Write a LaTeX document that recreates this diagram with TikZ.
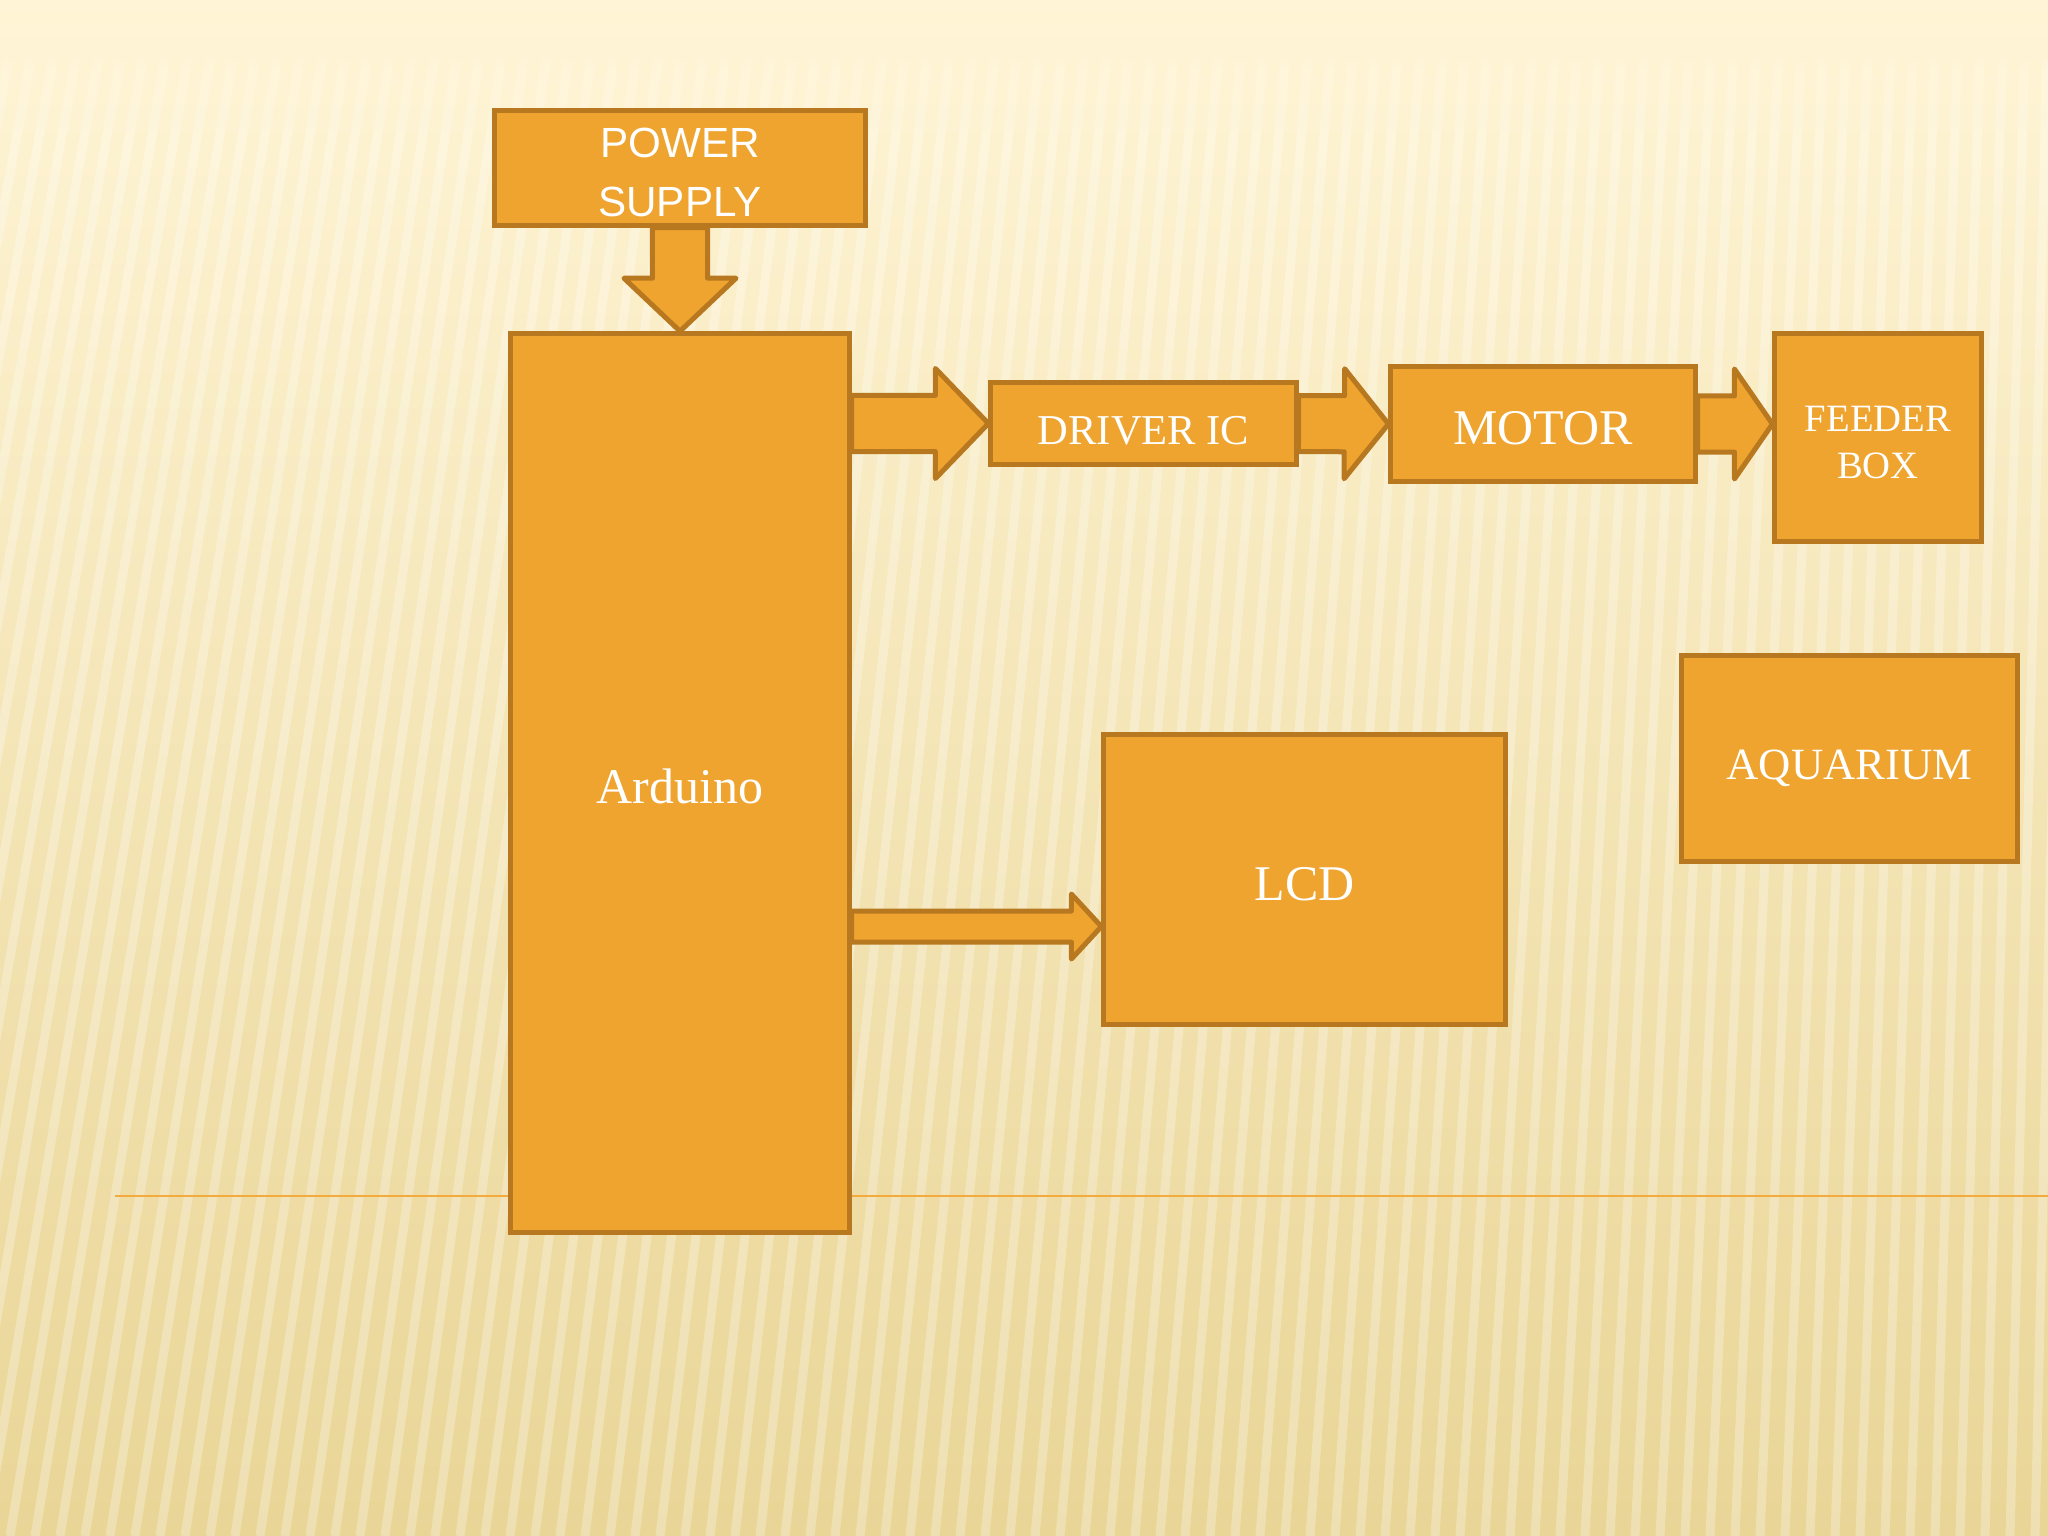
\documentclass[tikz,border=0pt]{standalone}
\usepackage{fontspec}
\setmainfont{Liberation Serif}
\newfontfamily\psfont{Liberation Sans}
\usetikzlibrary{calc,fadings}
\definecolor{boxfill}{HTML}{EEA42F}
\definecolor{boxline}{HTML}{B8781F}
\definecolor{rulecol}{HTML}{F2AB3C}
\definecolor{bgtop}{HTML}{FFF5D6}
\definecolor{bgmid}{HTML}{F7E7B5}
\definecolor{bgbot}{HTML}{E9D596}
\tikzset{
  box/.style={draw=boxline,fill=boxfill,line width=0.05cm,text=white,inner sep=0pt},
  boxtext/.style={text height=0.41cm,text depth=0pt},
  arrowbox/.style={draw=boxline,fill=boxfill,line width=0.05cm,line join=round},
  stripe/.style={white,opacity=0.28,line width=0.09cm},
}
% block arrow: from, to, shaft half width, head half width, head length
\newcommand{\blockarrow}[5]{%
  \coordinate (neck) at ($(#2)!#5!(#1)$);
  \filldraw[arrowbox] ($(#1)!#3!90:(#2)$) -- ($(neck)!#3!-90:(#1)$)
    -- ($(neck)!#4!-90:(#1)$) -- (#2) -- ($(neck)!#4!90:(#1)$)
    -- ($(neck)!#3!90:(#1)$) -- ($(#1)!#3!-90:(#2)$) -- cycle;
}
\begin{document}
\begin{tikzpicture}[x=0.01cm,y=-0.01cm]
\useasboundingbox (0,0) rectangle (2048,1536);
% background
\fill[top color=bgtop,middle color=bgmid,bottom color=bgbot] (0,0) rectangle (2048,1536);
\foreach \i in {-12,...,86} {
  \draw[stripe] (\i*25-40,1536) -- (\i*25+210-\i*2.6,60);
}
\fill[bgtop,path fading=south] (0,0) rectangle (2048,150);
\draw[rulecol,line width=0.025cm] (115,1196) -- (2048,1196);
\coordinate (PS) at (680,168);
\coordinate (ARD) at (680,783);
\coordinate (DRV) at (1143.5,423.5);
\coordinate (MOT) at (1543,424);
\coordinate (FEED) at (1878,437.5);
\coordinate (AQUA) at (1849.5,758.5);
\coordinate (LCD) at (1304.5,879.5);
\node[box,minimum width=3.70cm,minimum height=1.14cm] (ps) at (PS) {};
\node[text=white,font=\psfont\fontsize{12}{17}\selectfont,align=center,yshift=-0.045cm] (pstext) at (PS) {POWER\\SUPPLY};
\node[box,boxtext,minimum width=3.38cm,minimum height=8.98cm,font=\fontsize{14.2}{17}\selectfont] (ard) at (ARD) {Arduino};
\node[box,boxtext,minimum width=3.05cm,minimum height=0.81cm,font=\fontsize{12.1}{15}\selectfont] (drv) at (DRV) {DRIVER IC};
\node[box,boxtext,minimum width=3.04cm,minimum height=1.14cm,font=\fontsize{14.2}{17}\selectfont] (mot) at (MOT) {MOTOR};
\node[box,minimum width=2.06cm,minimum height=2.07cm] (feed) at (FEED) {};
\node[text=white,font=\fontsize{11}{13.4}\selectfont,align=center,yshift=-0.05cm] (feedtext) at (FEED) {FEEDER\\BOX};
\node[box,boxtext,minimum width=3.35cm,minimum height=2.05cm,font=\fontsize{12.7}{15}\selectfont] (aqua) at (AQUA) {AQUARIUM};
\node[box,boxtext,minimum width=4.01cm,minimum height=2.89cm,font=\fontsize{14.2}{17}\selectfont] (lcd) at (LCD) {LCD};
\coordinate (lcdin) at ([yshift=-0.47cm]lcd.west);
\coordinate (ardout) at (ard.east |- drv.west);
\coordinate (ardlcd) at (ard.east |- lcdin);
\coordinate (feedin) at (mot.east -| feed.west);
% arrows
\blockarrow{ps.south}{ard.north}{0.275cm}{0.56cm}{0.53cm}
\blockarrow{ardout}{drv.west}{0.28cm}{0.55cm}{0.53cm}
\blockarrow{drv.east}{mot.west}{0.28cm}{0.55cm}{0.44cm}
\blockarrow{mot.east}{feedin}{0.28cm}{0.55cm}{0.38cm}
\blockarrow{ardlcd}{lcdin}{0.155cm}{0.325cm}{0.30cm}
\end{tikzpicture}
\end{document}
